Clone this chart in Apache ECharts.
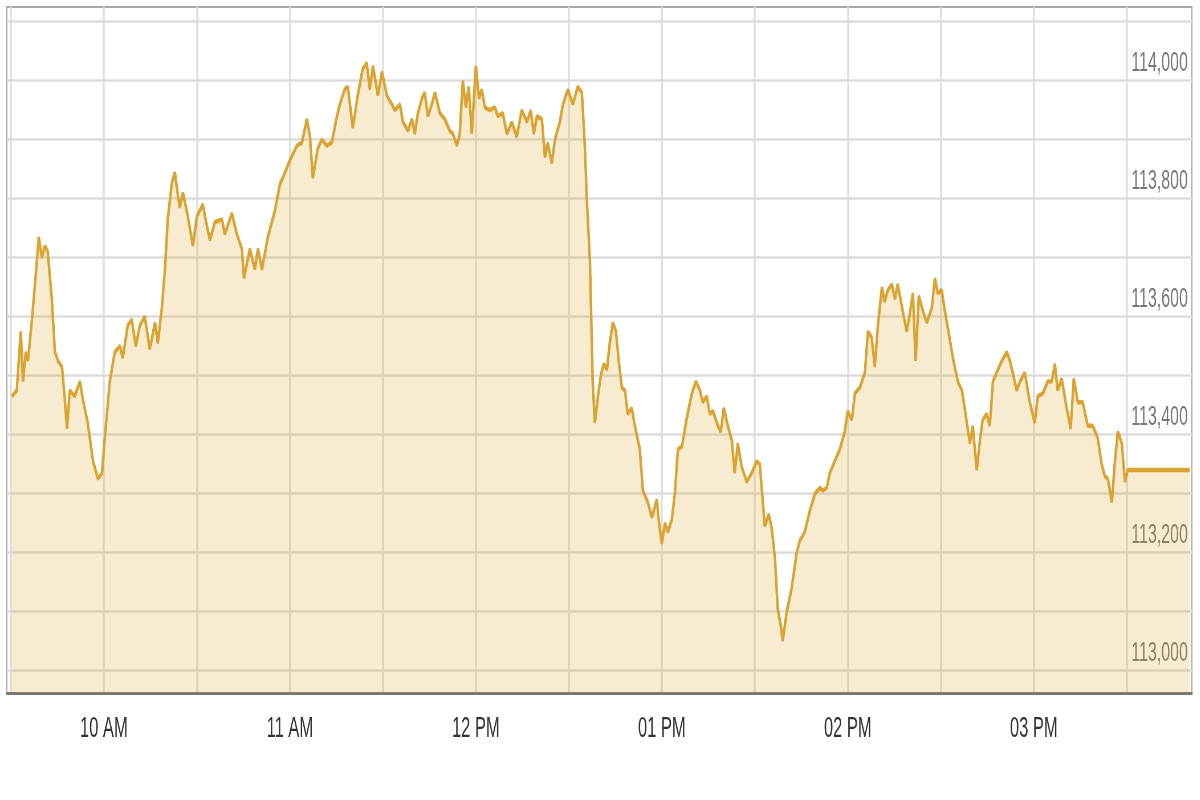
<!DOCTYPE html>
<html>
<head>
<meta charset="utf-8">
<title>Intraday index</title>
<script src="https://cdn.jsdelivr.net/npm/echarts@6/dist/echarts.min.js"></script>
<style>
  html, body { margin: 0; padding: 0; background: #fff; overflow: hidden; }
  /* the source screenshot is squeezed sideways, so the chart is drawn wide and squeezed back */
  #chart { width: 2105px; height: 800px; transform: scaleX(0.57); transform-origin: 0 0; }
</style>
</head>
<body>
<div id="chart"></div>
<script>
// minutes after 09:30
const minutes = [
  0.3, 1.9, 3.2, 3.9, 4.8, 5.5, 6.8, 7.7, 9.0, 10.0, 11.0, 11.9, 13.2, 14.2, 15.2, 16.5, 17.4, 18.1, 19.0, 20.6,
  22.3, 23.2, 24.8, 26.5, 28.1, 29.4, 30.3, 31.9, 33.5, 35.2, 36.1, 37.7, 39.0, 40.3, 41.6, 43.2, 44.8, 46.5, 47.4, 48.7,
  49.7, 50.6, 51.9, 52.9, 53.9, 54.5, 55.5, 57.1, 58.7, 60.0, 61.9, 63.2, 64.2, 65.8, 68.1, 69.0, 71.3, 72.9, 74.5, 75.2,
  77.1, 78.7, 79.7, 81.0, 82.9, 85.2, 86.8, 87.7, 90.0, 92.3, 93.9, 95.5, 96.5, 97.4, 99.0, 100.3, 101.9, 103.5, 105.2, 106.1,
  107.7, 108.7, 110.3, 111.9, 113.5, 114.8, 115.8, 116.8, 118.4, 119.7, 121.3, 122.9, 123.9, 125.5, 126.5, 128.1, 129.4, 130.3, 131.3, 132.6,
  133.5, 134.5, 135.8, 136.8, 138.4, 140.0, 141.6, 142.6, 143.9, 144.8, 145.8, 146.8, 147.7, 148.7, 150.0, 151.0, 151.9, 152.9, 154.5, 156.1,
  157.1, 158.7, 160.0, 161.6, 163.2, 164.8, 166.5, 167.7, 168.7, 169.7, 171.3, 172.3, 173.2, 174.5, 175.5, 177.1, 178.1, 179.7, 181.3, 182.9,
  184.2, 185.2, 185.8, 186.8, 187.7, 188.4, 189.4, 190.3, 191.3, 192.3, 193.2, 194.2, 195.2, 196.1, 197.1, 198.1, 199.0, 200.3, 201.3, 202.9,
  203.9, 205.5, 206.8, 208.4, 209.0, 210.0, 211.0, 211.9, 213.2, 214.2, 215.2, 216.5, 218.1, 219.7, 221.0, 222.3, 223.2, 224.5, 225.5, 226.5,
  228.1, 229.0, 230.0, 231.3, 232.6, 233.5, 234.5, 235.8, 237.4, 239.0, 240.6, 241.6, 242.6, 243.2, 244.5, 245.5, 246.5, 247.4, 248.4, 249.0,
  250.3, 251.9, 253.5, 254.5, 256.1, 257.7, 259.4, 261.0, 261.9, 263.2, 264.2, 265.8, 267.4, 269.0, 270.0, 271.3, 272.3, 273.9, 275.5, 276.5,
  277.7, 278.7, 279.7, 281.0, 281.9, 282.9, 284.2, 285.2, 286.1, 287.7, 289.0, 290.0, 291.0, 291.9, 292.9, 294.2, 295.5, 297.1, 298.1, 299.0,
  300.3, 301.3, 302.3, 303.9, 305.5, 306.8, 307.7, 309.4, 310.3, 311.6, 312.6, 313.5, 314.8, 315.8, 316.8, 318.4, 319.7, 321.3, 322.3, 323.2,
  324.5, 325.5, 327.1, 328.7, 330.3, 331.3, 332.9, 334.5, 335.8, 336.8, 337.7, 339.0, 340.6, 341.9, 342.9, 344.2, 345.8, 347.4, 349.0, 350.6,
  351.9, 352.9, 353.9, 355.2, 356.1, 357.1, 358.4, 359.4, 360.3, 380.3
]

const prices = [
  113465, 113475, 113575, 113490, 113540, 113525, 113595, 113650, 113735, 113700, 113720, 113710, 113630, 113540, 113525, 113515, 113460, 113410, 113475, 113465,
  113490, 113460, 113420, 113355, 113325, 113335, 113395, 113490, 113540, 113550, 113530, 113585, 113595, 113550, 113585, 113600, 113545, 113590, 113555, 113615,
  113680, 113765, 113825, 113845, 113805, 113785, 113810, 113770, 113720, 113770, 113790, 113755, 113730, 113760, 113765, 113740, 113775, 113740, 113715, 113665,
  113715, 113680, 113715, 113680, 113735, 113780, 113825, 113835, 113865, 113890, 113895, 113935, 113905, 113835, 113885, 113900, 113890, 113895, 113940, 113960,
  113985, 113990, 113920, 113975, 114020, 114030, 113985, 114025, 113975, 114015, 113975, 113960, 113950, 113960, 113930, 113915, 113935, 113910, 113945, 113970,
  113980, 113940, 113960, 113980, 113945, 113935, 113915, 113910, 113890, 113910, 114000, 113955, 113990, 113910, 114025, 113970, 113985, 113955, 113950, 113955,
  113940, 113945, 113910, 113930, 113905, 113950, 113930, 113950, 113910, 113940, 113935, 113870, 113895, 113860, 113900, 113930, 113960, 113985, 113960, 113990,
  113980, 113885, 113800, 113695, 113490, 113420, 113465, 113500, 113520, 113510, 113555, 113590, 113575, 113525, 113480, 113475, 113435, 113445, 113415, 113375,
  113305, 113285, 113260, 113290, 113255, 113215, 113250, 113235, 113255, 113300, 113375, 113380, 113430, 113470, 113490, 113475, 113455, 113465, 113435, 113440,
  113415, 113405, 113445, 113415, 113390, 113335, 113385, 113345, 113320, 113335, 113355, 113350, 113285, 113245, 113265, 113240, 113190, 113105, 113075, 113050,
  113100, 113140, 113200, 113220, 113235, 113270, 113300, 113310, 113305, 113310, 113335, 113355, 113375, 113405, 113440, 113425, 113470, 113480, 113505, 113575,
  113565, 113515, 113585, 113650, 113625, 113645, 113655, 113630, 113655, 113610, 113575, 113605, 113640, 113525, 113635, 113610, 113590, 113615, 113665, 113640,
  113645, 113610, 113580, 113530, 113490, 113475, 113445, 113385, 113415, 113340, 113390, 113425, 113435, 113415, 113490, 113510, 113525, 113540, 113525, 113505,
  113475, 113490, 113505, 113455, 113420, 113465, 113470, 113490, 113490, 113520, 113475, 113495, 113445, 113410, 113495, 113455, 113455, 113415, 113415, 113395,
  113350, 113330, 113325, 113285, 113350, 113405, 113385, 113320, 113340, 113340
]

// x gridlines every half hour, labels on the hour
const halfHourTicks = [0, 30, 60, 90, 120, 150, 180, 210, 240, 270, 300, 330, 360]
const hourTicks = [30, 90, 150, 210, 270, 330]
const hourLabels = ['10 AM', '11 AM', '12 PM', '01 PM', '02 PM', '03 PM']

// y gridlines every 100, labels every 200
const priceGrid = [113000, 113100, 113200, 113300, 113400, 113500, 113600, 113700, 113800, 113900, 114000, 114100]
const priceTicks = [113000, 113200, 113400, 113600, 113800, 114000]

const chart = echarts.init(document.getElementById('chart'))

const commas = (v) => String(v).replace(/\B(?=(\d{3})+(?!\d))/g, ',')

chart.setOption({
  animation: false,
  grid: {
    left: 12, right: 14, top: 7, bottom: 107,
    show: true,
    borderColor: '#a8a8a8',
    borderWidth: 2,
  },
  xAxis: {
    type: 'value',
    min: -1.3,
    max: 381,
    axisLine: { show: true, lineStyle: { color: '#777', width: 3 } },
    axisTick: { show: false, customValues: halfHourTicks },
    splitLine: { show: true, lineStyle: { color: '#dedede', width: 3.5 } },
    axisLabel: {
      customValues: hourTicks,
      margin: 21,
      color: '#333',
      fontSize: 29,
      fontFamily: 'Liberation Sans, Arial, sans-serif',
      formatter: (v) => hourLabels[hourTicks.indexOf(Math.round(v))] || '',
    },
  },
  yAxis: {
    type: 'value',
    position: 'right',
    min: 112962,
    max: 114125,
    axisLine: { show: false },
    axisTick: { show: false, customValues: priceGrid },
    splitLine: { show: true, lineStyle: { color: '#dcdcdc', width: 2.5 } },
    axisLabel: {
      customValues: priceTicks,
      inside: true,
      margin: 7,
      color: '#777',
      fontSize: 28,
      fontFamily: 'Liberation Sans, Arial, sans-serif',
      verticalAlign: 'bottom',
      padding: [0, 0, 3, 0],
      formatter: commas,
    },
  },
  series: [{
    type: 'line',
    data: minutes.map((m, i) => [m, prices[i]]),
    symbol: 'none',
    lineStyle: { color: '#daa332', width: 4.5 },
    areaStyle: { color: 'rgba(218,165,32,0.3)', origin: 'start' },
  }],
})
</script>
</body>
</html>
